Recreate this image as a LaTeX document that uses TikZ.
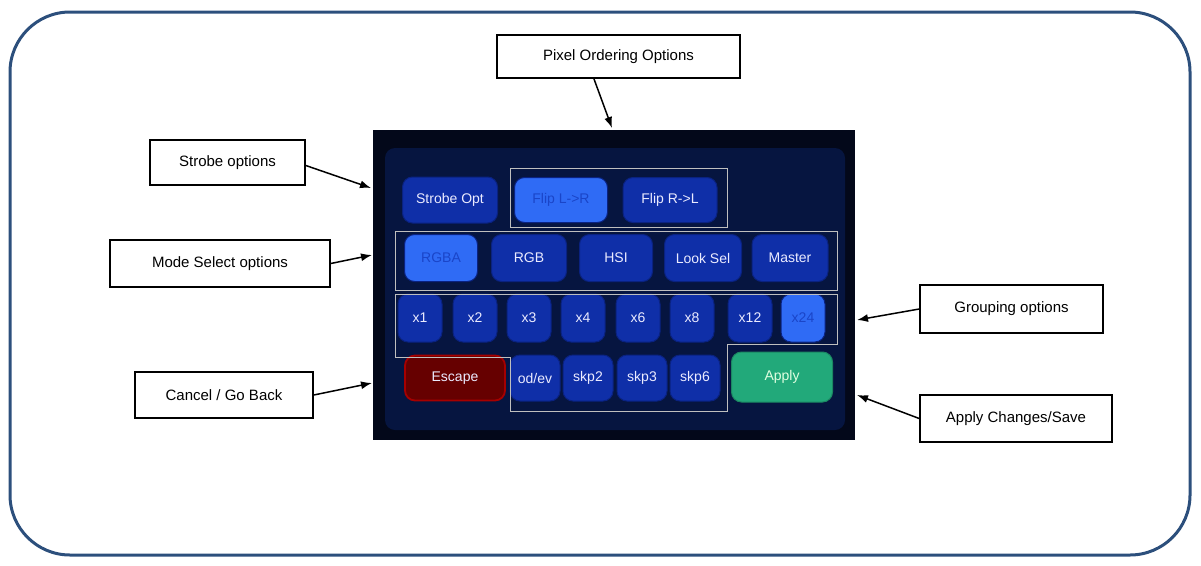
\documentclass[tikz,border=0pt]{standalone}
\usepackage{fontspec}
\setmainfont{Liberation Sans}
\definecolor{frame}{HTML}{2C4F7C}
\definecolor{bt}{HTML}{0F2FA8}
\definecolor{btd}{HTML}{0A2280}
\definecolor{bsel}{HTML}{2F6BF5}
\definecolor{bselt}{HTML}{1A45C8}
\definecolor{scr}{HTML}{03081A}
\definecolor{scrin}{HTML}{061540}
\definecolor{grn}{HTML}{22A97A}
\usetikzlibrary{arrows.meta}
\begin{document}
\begin{tikzpicture}[x=1pt,y=-1pt,
  lbl/.style={draw=black,line width=1.6pt,fill=white,inner sep=0pt,font=\fontsize{15}{17}\selectfont},
  arr/.style={-{Latex[length=11pt,width=8pt]},line width=1.5pt},
  btn/.style={rounded corners=10pt,fill=bt,draw=btd,line width=1pt,inner sep=0pt,text=blue!8!white,font=\fontsize{14}{16}\selectfont},
  sel/.style={btn,fill=bsel,text=bselt},
  grp/.style={draw=white!75!black,line width=1pt}]
\useasboundingbox (0,0) rectangle (1201,565);
\draw[line width=3pt,draw=frame,rounded corners=60pt] (10,12) rectangle (1190,555);
% screen
\fill[scr] (373,130) rectangle (855,440);
\fill[scrin,rounded corners=10pt] (385,148) rectangle (845,430);
% buttons
\node[btn,minimum width=95pt,minimum height=46pt] (strobe) at (450,200) {Strobe Opt};
\node[sel,minimum width=93pt,minimum height=45pt] (flr) at (561,200) {Flip L->R};
\node[btn,minimum width=94pt,minimum height=45pt] (frl) at (670,200) {Flip R->L};
\node[sel,minimum width=73pt,minimum height=47pt] (rgba) at (441,258) {RGBA};
\node[btn,minimum width=75pt,minimum height=47pt] (rgb) at (529,258) {RGB};
\node[btn,minimum width=73pt,minimum height=47pt] (hsi) at (616,258) {HSI};
\node[btn,minimum width=77pt,minimum height=47pt] (look) at (703,258) {Look Sel};
\node[btn,minimum width=76pt,minimum height=47pt] (master) at (790,258) {Master};
\foreach \n/\x/\t in {g1/420/x1,g2/475/x2,g3/529/x3,g4/583/x4,g6/638/x6,g8/692/x8,g12/750/x12}
  \node[btn,minimum width=44pt,minimum height=48pt] (\n) at (\x,318) {\t};
\node[sel,minimum width=44pt,minimum height=48pt] (g24) at (803,318) {x24};
\node[btn,fill=red!40!black,draw=red!65!black,line width=1.8pt,minimum width=100pt,minimum height=45pt] (esc) at (455,378) {Escape};
\foreach \n/\x/\t in {od/535/{od/ev},s2/588/skp2,s3/642/skp3,s6/695/skp6}
  \node[btn,minimum width=50pt,minimum height=46pt] (\n) at (\x,378) {\t};
\node[btn,fill=grn,draw=grn!80!black,text=green!12!white,minimum width=101pt,minimum height=50pt] (apply) at (782,377) {Apply};
% group frames
\draw[grp] (510,168) rectangle (727,227);
\draw[grp] (395,231) rectangle (837,290);
\draw[grp] (395,294) -- (837,294) -- (837,344) -- (727,344) -- (727,411) -- (510,411) -- (510,357) -- (395,357) -- cycle;
\coordinate (scrtop) at (612,128);
\coordinate (pstrobe) at (371,188);
\coordinate (pmode) at (372,255);
\coordinate (pgroup) at (857,320);
\coordinate (pcancel) at (372,383);
\coordinate (papply) at (857,395);
% labels
\node[lbl,minimum width=243pt,minimum height=43pt] (pix) at (618.5,56.5) {Pixel Ordering Options};
\node[lbl,minimum width=155pt,minimum height=45pt] (strl) at (227.5,162.5) {Strobe options};
\node[lbl,minimum width=220pt,minimum height=47pt] (model) at (220,263.5) {Mode Select options};
\node[lbl,minimum width=183pt,minimum height=48pt] (grpl) at (1011.5,309) {Grouping options};
\node[lbl,minimum width=178pt,minimum height=46pt] (canl) at (224,395) {Cancel / Go Back};
\node[lbl,minimum width=192pt,minimum height=47pt] (appl) at (1016,418.5) {Apply Changes/Save};
\draw[arr] (594,79) -- (scrtop);
\draw[arr] (strl.east) ++(0,3) -- (pstrobe);
\draw[arr] (model.east) -- (pmode);
\draw[arr] (grpl.west) -- (pgroup);
\draw[arr] (canl.east) -- (pcancel);
\draw[arr] (appl.west) -- (papply);
\end{tikzpicture}
\end{document}
